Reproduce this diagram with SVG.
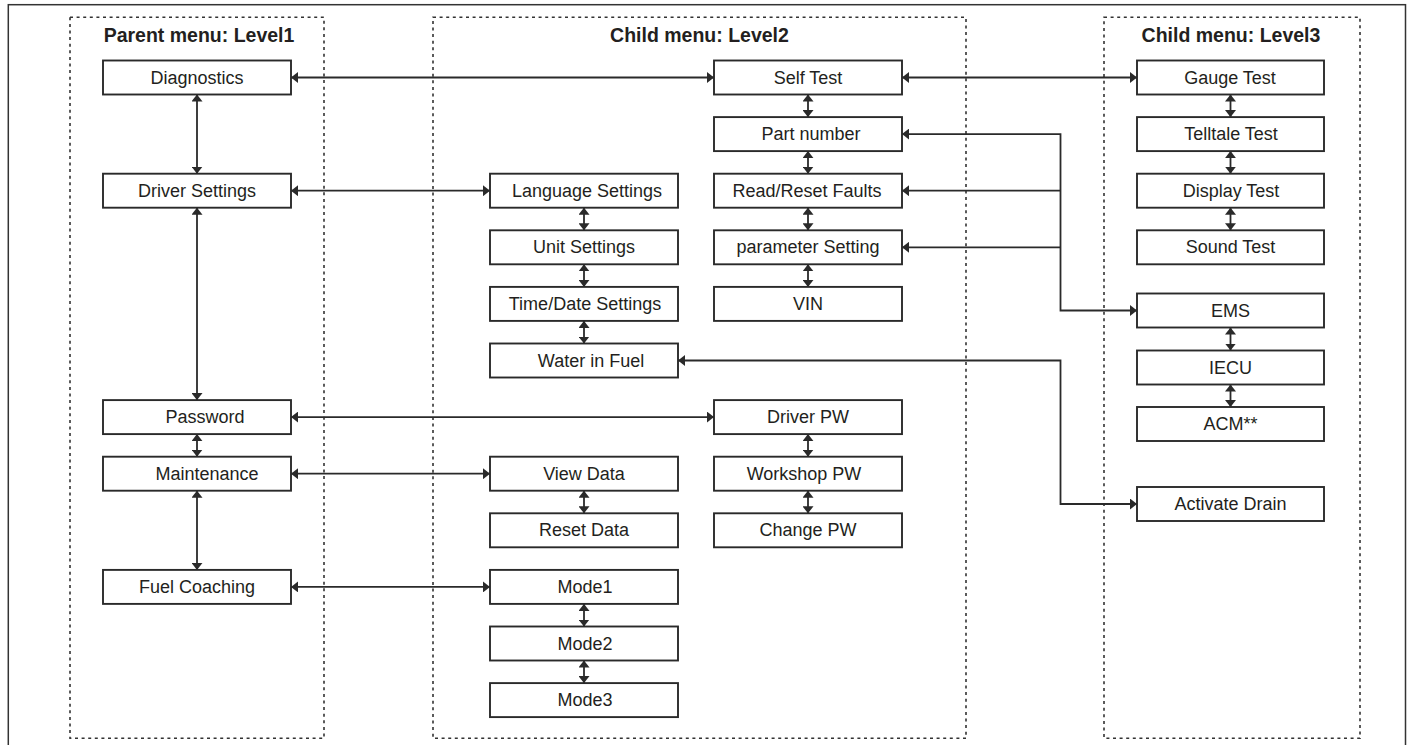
<svg xmlns="http://www.w3.org/2000/svg" width="1408" height="745" viewBox="0 0 1408 745">
<style>
.frame{fill:none;stroke:#333;stroke-width:1.5}
.cont{fill:none;stroke:#333;stroke-width:1.6;stroke-dasharray:3 3.6}
.title{font-family:"Liberation Sans",Arial,sans-serif;font-weight:bold;font-size:19.5px;fill:#231f20;text-anchor:middle}
.box rect{fill:#fff;stroke:#2a2a2a;stroke-width:1.9}
.box text{font-family:"Liberation Sans",Arial,sans-serif;font-size:18px;fill:#231f20;text-anchor:middle}
.con path{fill:none;stroke:#2a2a2a;stroke-width:1.8}
</style>
<defs>
<marker id="ah" viewBox="0 0 7 11" refX="7" refY="5.5" markerWidth="7" markerHeight="11" markerUnits="userSpaceOnUse" orient="auto-start-reverse">
<path d="M0,0 L7,5.5 L0,11 z" fill="#2a2a2a"/>
</marker>
</defs>
<rect x="0" y="0" width="1408" height="745" fill="#fff"/>
<rect class="frame" x="8.3" y="4.7" width="1397.2" height="760"/>
<g id="containers">
<rect class="cont" x="70" y="17.3" width="254" height="721"/>
<rect class="cont" x="433" y="17.3" width="533" height="721"/>
<rect class="cont" x="1104" y="17.3" width="256" height="721"/>
<text class="title" x="199" y="41.5">Parent menu: Level1</text>
<text class="title" x="699.5" y="41.5">Child menu: Level2</text>
<text class="title" x="1231" y="41.5">Child menu: Level3</text>
</g>
<g class="con" id="connectors">
<path d="M291,77.5 H714" marker-start="url(#ah)" marker-end="url(#ah)"/>
<path d="M902,77.5 H1137" marker-start="url(#ah)" marker-end="url(#ah)"/>
<path d="M291,190.7 H490" marker-start="url(#ah)" marker-end="url(#ah)"/>
<path d="M291,417.1 H714" marker-start="url(#ah)" marker-end="url(#ah)"/>
<path d="M291,473.7 H490" marker-start="url(#ah)" marker-end="url(#ah)"/>
<path d="M291,586.9 H490" marker-start="url(#ah)" marker-end="url(#ah)"/>
<path d="M902,134.1 H1060.5 V310.5 H1137" marker-start="url(#ah)" marker-end="url(#ah)"/>
<path d="M902,190.7 H1060.5" marker-start="url(#ah)"/>
<path d="M902,247.3 H1060.5" marker-start="url(#ah)"/>
<path d="M678,360.5 H1060.5 V504 H1137" marker-start="url(#ah)" marker-end="url(#ah)"/>
<path d="M197,94.5 V173.7" marker-start="url(#ah)" marker-end="url(#ah)"/>
<path d="M197,207.7 V400.1" marker-start="url(#ah)" marker-end="url(#ah)"/>
<path d="M197,434.1 V456.7" marker-start="url(#ah)" marker-end="url(#ah)"/>
<path d="M197,490.7 V569.9" marker-start="url(#ah)" marker-end="url(#ah)"/>
<path d="M584,207.7 V230.3" marker-start="url(#ah)" marker-end="url(#ah)"/>
<path d="M584,264.3 V286.9" marker-start="url(#ah)" marker-end="url(#ah)"/>
<path d="M584,320.9 V343.5" marker-start="url(#ah)" marker-end="url(#ah)"/>
<path d="M584,490.7 V513.3" marker-start="url(#ah)" marker-end="url(#ah)"/>
<path d="M584,603.9 V626.5" marker-start="url(#ah)" marker-end="url(#ah)"/>
<path d="M584,660.5 V683.1" marker-start="url(#ah)" marker-end="url(#ah)"/>
<path d="M808,94.5 V117.1" marker-start="url(#ah)" marker-end="url(#ah)"/>
<path d="M808,151.1 V173.7" marker-start="url(#ah)" marker-end="url(#ah)"/>
<path d="M808,207.7 V230.3" marker-start="url(#ah)" marker-end="url(#ah)"/>
<path d="M808,264.3 V286.9" marker-start="url(#ah)" marker-end="url(#ah)"/>
<path d="M808,434.1 V456.7" marker-start="url(#ah)" marker-end="url(#ah)"/>
<path d="M808,490.7 V513.3" marker-start="url(#ah)" marker-end="url(#ah)"/>
<path d="M1230.5,94.5 V117.1" marker-start="url(#ah)" marker-end="url(#ah)"/>
<path d="M1230.5,151.1 V173.7" marker-start="url(#ah)" marker-end="url(#ah)"/>
<path d="M1230.5,207.7 V230.3" marker-start="url(#ah)" marker-end="url(#ah)"/>
<path d="M1230.5,327.5 V350.5" marker-start="url(#ah)" marker-end="url(#ah)"/>
<path d="M1230.5,384.5 V407" marker-start="url(#ah)" marker-end="url(#ah)"/>
</g>
<g class="box" id="diagnostics"><rect x="103" y="60.5" width="188" height="34"/><text x="197" y="83.5">Diagnostics</text></g>
<g class="box" id="driver-settings"><rect x="103" y="173.7" width="188" height="34"/><text x="197" y="196.7">Driver Settings</text></g>
<g class="box" id="password"><rect x="103" y="400.1" width="188" height="34"/><text x="205" y="423.1">Password</text></g>
<g class="box" id="maintenance"><rect x="103" y="456.7" width="188" height="34"/><text x="207" y="479.7">Maintenance</text></g>
<g class="box" id="fuel-coaching"><rect x="103" y="569.9" width="188" height="34"/><text x="197" y="592.9">Fuel Coaching</text></g>
<g class="box" id="language-settings"><rect x="490" y="173.7" width="188" height="34"/><text x="587" y="196.7">Language Settings</text></g>
<g class="box" id="unit-settings"><rect x="490" y="230.3" width="188" height="34"/><text x="584" y="253.3">Unit Settings</text></g>
<g class="box" id="time-date-settings"><rect x="490" y="286.9" width="188" height="34"/><text x="585" y="309.9">Time/Date Settings</text></g>
<g class="box" id="water-in-fuel"><rect x="490" y="343.5" width="188" height="34"/><text x="591" y="366.5">Water in Fuel</text></g>
<g class="box" id="view-data"><rect x="490" y="456.7" width="188" height="34"/><text x="584" y="479.7">View Data</text></g>
<g class="box" id="reset-data"><rect x="490" y="513.3" width="188" height="34"/><text x="584" y="536.3">Reset Data</text></g>
<g class="box" id="mode1"><rect x="490" y="569.9" width="188" height="34"/><text x="585" y="592.9">Mode1</text></g>
<g class="box" id="mode2"><rect x="490" y="626.5" width="188" height="34"/><text x="585" y="649.5">Mode2</text></g>
<g class="box" id="mode3"><rect x="490" y="683.1" width="188" height="34"/><text x="585" y="706.1">Mode3</text></g>
<g class="box" id="self-test"><rect x="714" y="60.5" width="188" height="34"/><text x="808" y="83.5">Self Test</text></g>
<g class="box" id="part-number"><rect x="714" y="117.1" width="188" height="34"/><text x="811" y="140.1">Part number</text></g>
<g class="box" id="read-reset-faults"><rect x="714" y="173.7" width="188" height="34"/><text x="807" y="196.7">Read/Reset Faults</text></g>
<g class="box" id="parameter-setting"><rect x="714" y="230.3" width="188" height="34"/><text x="808" y="253.3">parameter Setting</text></g>
<g class="box" id="vin"><rect x="714" y="286.9" width="188" height="34"/><text x="808" y="309.9">VIN</text></g>
<g class="box" id="driver-pw"><rect x="714" y="400.1" width="188" height="34"/><text x="808" y="423.1">Driver PW</text></g>
<g class="box" id="workshop-pw"><rect x="714" y="456.7" width="188" height="34"/><text x="804" y="479.7">Workshop PW</text></g>
<g class="box" id="change-pw"><rect x="714" y="513.3" width="188" height="34"/><text x="808" y="536.3">Change PW</text></g>
<g class="box" id="gauge-test"><rect x="1137" y="60.5" width="187" height="34"/><text x="1230" y="83.5">Gauge Test</text></g>
<g class="box" id="telltale-test"><rect x="1137" y="117.1" width="187" height="34"/><text x="1231" y="140.1">Telltale Test</text></g>
<g class="box" id="display-test"><rect x="1137" y="173.7" width="187" height="34"/><text x="1231" y="196.7">Display Test</text></g>
<g class="box" id="sound-test"><rect x="1137" y="230.3" width="187" height="34"/><text x="1230.5" y="253.3">Sound Test</text></g>
<g class="box" id="ems"><rect x="1137" y="293.5" width="187" height="34"/><text x="1230.5" y="316.5">EMS</text></g>
<g class="box" id="iecu"><rect x="1137" y="350.5" width="187" height="34"/><text x="1230.5" y="373.5">IECU</text></g>
<g class="box" id="acm"><rect x="1137" y="407" width="187" height="34"/><text x="1230.5" y="430">ACM**</text></g>
<g class="box" id="activate-drain"><rect x="1137" y="487" width="187" height="34"/><text x="1230.5" y="510">Activate Drain</text></g>
</svg>
